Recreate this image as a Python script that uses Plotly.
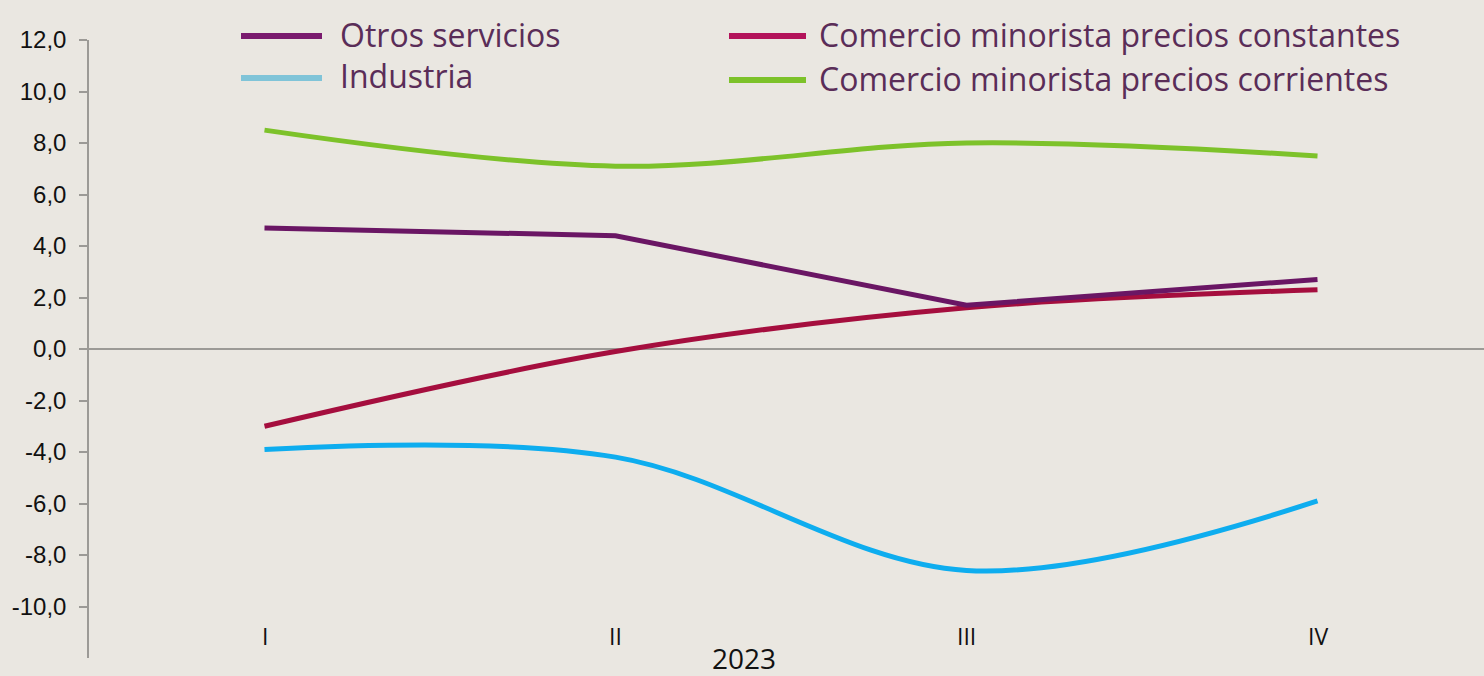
import plotly.graph_objects as go

# data
quarters = ["I", "II", "III", "IV"]
year_label = "2023"

otros_servicios = [4.7, 4.4, 1.7, 2.7]
industria = [-3.9, -4.2, -8.6, -5.9]
comercio_constantes = [-3.0, -0.1, 1.6, 2.3]
comercio_corrientes = [8.5, 7.1, 8.0, 7.5]

series_names = [
    "Otros servicios",
    "Industria",
    "Comercio minorista precios constantes",
    "Comercio minorista precios corrientes",
]
y_ticks = [-10, -8, -6, -4, -2, 0, 2, 4, 6, 8, 10, 12]
y_tick_text = [f"{v:.1f}".replace(".", ",") for v in y_ticks]

BG = "#EAE7E1"
AXIS_GREY = "#9C9A96"
LEGEND_TEXT = "#5A2D58"

W, H = 1484, 676
M_L, M_R, M_T, M_B = 89, 0, 40, 18


def px_x(px):
    return (px - M_L) / (W - M_L - M_R)


def px_y(py):
    return (H - M_B - py) / (H - M_T - M_B)


x_idx = list(range(len(quarters)))

fig = go.Figure()

fig.add_trace(go.Scatter(
    x=x_idx, y=comercio_corrientes, mode="lines",
    line=dict(color="#7DC22A", width=5, shape="spline", smoothing=1.0),
    name=series_names[3], showlegend=False,
))
fig.add_trace(go.Scatter(
    x=x_idx, y=industria, mode="lines",
    line=dict(color="#0EADEF", width=5, shape="spline", smoothing=1.0),
    name=series_names[1], showlegend=False,
))
fig.add_trace(go.Scatter(
    x=x_idx, y=comercio_constantes, mode="lines",
    line=dict(color="#A50E3E", width=5, shape="spline", smoothing=1.0),
    name=series_names[2], showlegend=False,
))
fig.add_trace(go.Scatter(
    x=x_idx, y=otros_servicios, mode="lines",
    line=dict(color="#6A1664", width=5),
    name=series_names[0], showlegend=False,
))

# hand-built legend (two columns, long swatches)
legend_items = [
    (series_names[0], "#7A1A6E", 241, 322, 338, 36),
    (series_names[1], "#80C4D8", 241, 322, 338, 78),
    (series_names[2], "#B3135A", 729, 806, 817, 36),
    (series_names[3], "#7DC22A", 729, 806, 817, 80),
]
for name, color, lx0, lx1, tx, ly in legend_items:
    fig.add_shape(
        type="line", xref="paper", yref="paper",
        x0=px_x(lx0), x1=px_x(lx1), y0=px_y(ly), y1=px_y(ly),
        line=dict(color=color, width=6),
    )
    fig.add_annotation(
        x=px_x(tx), y=px_y(ly - 2), xref="paper", yref="paper",
        text=name, showarrow=False, xanchor="left", yanchor="middle",
        font=dict(family="Open Sans", size=32, color=LEGEND_TEXT),
    )

# category labels sit inside the plot, near the bottom
for i, q in enumerate(quarters):
    fig.add_annotation(
        x=i, y=px_y(636), xref="x", yref="paper",
        text=q, showarrow=False, xanchor="center", yanchor="middle",
        font=dict(family="Open Sans", size=23, color="#111111"),
    )
fig.add_annotation(
    x=px_x(744), y=px_y(658), xref="paper", yref="paper",
    text=year_label, showarrow=False, xanchor="center", yanchor="middle",
    font=dict(family="Open Sans", size=28, color="#111111"),
)

fig.update_xaxes(
    range=[-0.5, (W - M_L - M_R) / 351 - 0.5],
    showgrid=False, showline=False, zeroline=False,
    showticklabels=False, ticks="",
)
fig.update_yaxes(
    range=[-12, 12],
    tickvals=y_ticks, ticktext=y_tick_text,
    showgrid=False,
    showline=True, linecolor=AXIS_GREY, linewidth=1.5,
    ticks="outside", ticklen=8, tickcolor=AXIS_GREY, tickwidth=1.5,
    zeroline=True, zerolinecolor=AXIS_GREY, zerolinewidth=1.5,
    tickfont=dict(family="Liberation Sans, Arial", size=24, color="#111111"),
    ticklabelstandoff=8,
)

fig.update_layout(
    width=W, height=H,
    margin=dict(l=M_L, r=M_R, t=M_T, b=M_B, pad=0),
    paper_bgcolor=BG, plot_bgcolor=BG,
    showlegend=False,
)

# drop the page's default body margin so the chart fills the window
fig.write_html(
    "out.html",
    config={"displayModeBar": False},
    post_script="document.body.style.margin='0';",
)
